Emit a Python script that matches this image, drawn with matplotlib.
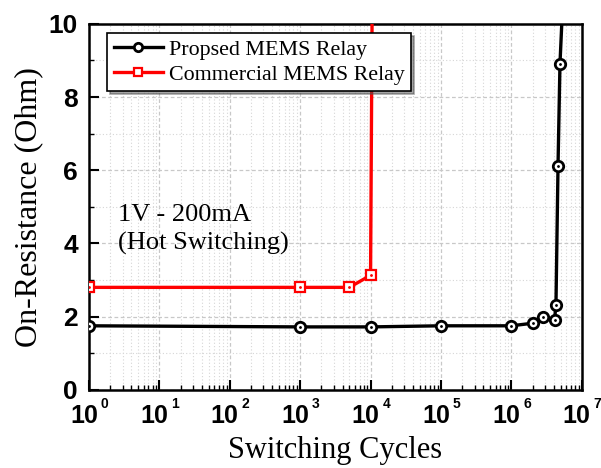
import numpy as np
import matplotlib
matplotlib.use("Agg")
import matplotlib.pyplot as plt
from matplotlib.ticker import FixedLocator, NullFormatter, MultipleLocator, LogLocator

plt.rcParams['font.family'] = ['Liberation Serif', 'DejaVu Serif']

# 数据
prop_x = [1, 1e3, 1e4, 1e5, 1e6, 2e6, 2.8e6, 4.1e6, 4.3e6, 4.6e6, 4.9e6, 5.2e6]
prop_y = [1.75, 1.72, 1.72, 1.75, 1.75, 1.82, 2.0, 1.91, 2.32, 6.13, 8.9, 10.0]
comm_x = [1, 1e3, 5e3, 1e4, 1.05e4]
comm_y = [2.8, 2.8, 2.8, 3.13, 10.0]

x_exps = list(range(8))
labels = ["Propsed MEMS Relay", "Commercial MEMS Relay"]
note = "1V - 200mA\n(Hot Switching)"

fig = plt.figure(figsize=(6.01, 4.68), dpi=100)
ax = fig.add_axes([0.148, 0.167, 0.820, 0.782])

ax.plot(prop_x, prop_y, color='black', lw=2.4, marker='o', ms=7.5, mfc='white', mec='black',
        mew=2, markevery=slice(0, -1), label=labels[0], zorder=4)
ax.plot(comm_x, comm_y, color='red', lw=2.4, marker='s', ms=7.5, mfc='white', mec='red',
        mew=1.6, markevery=slice(0, -1), label=labels[1], zorder=3)
# 标记中心的小点
ax.plot(prop_x[:-1], prop_y[:-1], ls='none', marker='.', ms=2, color='black', zorder=5)
ax.plot(comm_x[:-1], comm_y[:-1], ls='none', marker='.', ms=2, color='red', zorder=5)

ax.set_xscale('log')
ax.set_xlim(1, 1e7)
ax.set_ylim(0, 10)

xt = [10.0**k for k in x_exps]
ax.xaxis.set_major_locator(FixedLocator(xt))
ax.xaxis.set_major_formatter(NullFormatter())
ax.xaxis.set_minor_locator(LogLocator(base=10, subs=np.arange(2, 10), numticks=20))
ax.xaxis.set_minor_formatter(NullFormatter())
ax.yaxis.set_major_locator(MultipleLocator(2))
ax.yaxis.set_minor_locator(MultipleLocator(1))

# x刻度标签: 10 + 小号指数
for v, k in zip(xt, x_exps):
    ax.annotate("10", xy=(v, 0), xycoords=('data', 'axes fraction'), xytext=(-5, -14),
                textcoords='offset pixels', ha='center', va='top', fontsize=18,
                family='Liberation Sans', fontweight='bold', annotation_clip=False)
    ax.annotate(str(k), xy=(v, 0), xycoords=('data', 'axes fraction'), xytext=(12, -7),
                textcoords='offset pixels', ha='left', va='top', fontsize=10,
                family='Liberation Sans', fontweight='bold', annotation_clip=False)

for lab in ax.get_yticklabels():
    lab.set_family('Liberation Sans')
    lab.set_fontweight('bold')
ax.tick_params(axis='both', which='major', direction='in', length=7, width=1.5)
ax.tick_params(axis='both', which='minor', direction='in', length=3.5, width=1)
ax.tick_params(axis='y', which='major', labelsize=19, pad=8)

ax.grid(True, which='major', color='#c8c8c8', ls=(0, (3, 2)), lw=0.9)
ax.grid(True, which='minor', color='#d6d6d6', ls=(0, (1, 2)), lw=0.8)
ax.set_axisbelow(True)

for s in ax.spines.values():
    s.set_linewidth(1.8)

ax.set_xlabel("Switching Cycles", fontsize=22, labelpad=30)
ax.set_ylabel("On-Resistance (Ohm)", fontsize=23, labelpad=4)

ax.text(2.6, 5.08, note, fontsize=19, va='top', ha='left', linespacing=1.35)

leg = ax.legend(loc='upper left', bbox_to_anchor=(0.037, 0.975), borderaxespad=0, fontsize=15.8,
                frameon=True, fancybox=False, shadow=True, edgecolor='black', framealpha=1,
                handlelength=2.25, borderpad=0.3, labelspacing=0.2, handletextpad=0.25,
                markerscale=0.8)
leg.get_frame().set_linewidth(1.2)

fig.savefig("out.png", dpi=100)
